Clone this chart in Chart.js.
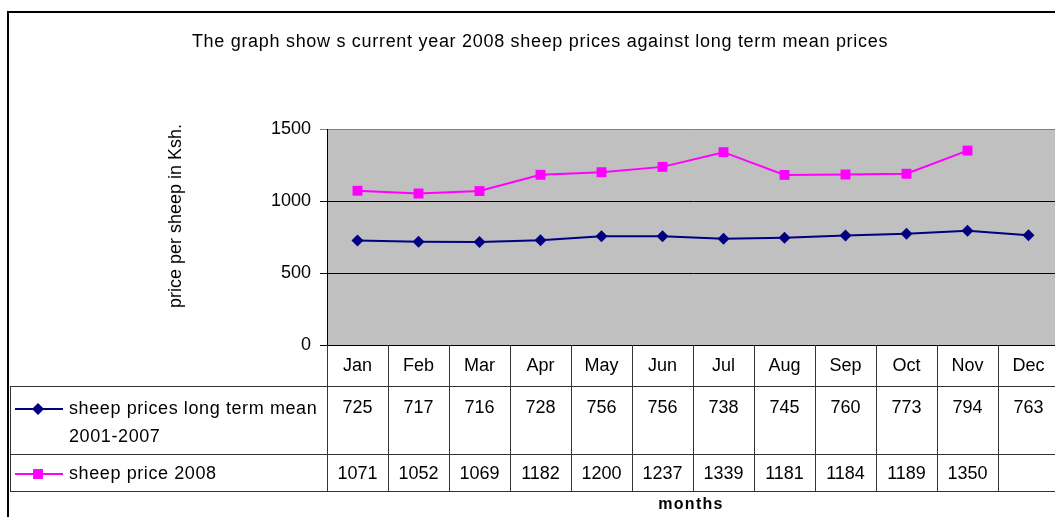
<!DOCTYPE html>
<html>
<head>
<meta charset="utf-8">
<script src="https://cdn.jsdelivr.net/npm/chart.js@4/dist/chart.umd.min.js"></script>
<style>
  html, body { margin: 0; padding: 0; overflow: hidden; background: #fff; }
  canvas { display: block; }
</style>
</head>
<body>
<canvas id="chart" width="1070" height="530"></canvas>
<script>
'use strict';

const months = ['Jan', 'Feb', 'Mar', 'Apr', 'May', 'Jun', 'Jul', 'Aug', 'Sep', 'Oct', 'Nov', 'Dec'];
const meanPrices = [725, 717, 716, 728, 756, 756, 738, 745, 760, 773, 794, 763];
const prices2008 = [1071, 1052, 1069, 1182, 1200, 1237, 1339, 1181, 1184, 1189, 1350, null];
const yTicks = [0, 500, 1000, 1500];
const meanLabel = ['sheep prices long term mean', '2001-2007'];
const label2008 = ['sheep price 2008'];
const titleText = 'The graph show s current year 2008 sheep prices against long term mean prices';
const yTitle = 'price per sheep in Ksh.';
const xTitle = 'months';

const FONT = '"Liberation Sans", Arial, sans-serif';
const PLOT_TOP = 129;
const PLOT_BOTTOM = 345;
const ROW1 = 386, ROW2 = 454, ROW3 = 491;
const TABLE_LEFT = 10;

const canvas = document.querySelector('#chart');
const ctx = canvas.getContext('2d');

// gray plot background, titles, data table under the axis
const sheetPlugin = {
  id: 'sheet',
  beforeDraw(chart) {
    const a = chart.chartArea;
    const c = chart.ctx;
    c.save();
    c.fillStyle = '#fff';
    c.fillRect(0, 0, chart.width, chart.height);
    c.fillStyle = '#c0c0c0';
    c.fillRect(a.left, a.top, a.right - a.left, a.bottom - a.top);
    c.restore();
  },
  afterDraw(chart) {
    const c = chart.ctx;
    const x = chart.scales.x;
    const step = x.getPixelForValue(1) - x.getPixelForValue(0);
    c.save();

    // outer frame
    c.strokeStyle = '#000';
    c.lineWidth = 2;
    c.strokeRect(8, 12, chart.width, chart.height);

    // title
    c.fillStyle = '#000';
    c.font = '18px ' + FONT;
    c.letterSpacing = '0.7px';
    c.textAlign = 'center';
    c.textBaseline = 'middle';
    c.fillText(titleText, 540, 42);

    // y title
    c.save();
    c.translate(176, 216);
    c.rotate(-Math.PI / 2);
    c.letterSpacing = '0px';
    c.fillText(yTitle, 0, 0);
    c.restore();

    // table grid
    c.strokeStyle = '#333';
    c.lineWidth = 1;
    c.beginPath();
    [ROW1, ROW2, ROW3].forEach(y => {
      c.moveTo(TABLE_LEFT, y + 0.5);
      c.lineTo(chart.width, y + 0.5);
    });
    c.moveTo(TABLE_LEFT + 0.5, ROW1);
    c.lineTo(TABLE_LEFT + 0.5, ROW3);
    for (let i = 0; i <= months.length; i++) {
      const px = Math.round(x.getPixelForValue(i) - step / 2) + 0.5;
      c.moveTo(px, PLOT_BOTTOM);
      c.lineTo(px, ROW3);
    }
    c.stroke();

    // values
    c.fillStyle = '#000';
    c.font = '18px ' + FONT;
    c.letterSpacing = '0px';
    c.textAlign = 'center';
    c.textBaseline = 'middle';
    months.forEach((m, i) => {
      const px = x.getPixelForValue(i);
      if (meanPrices[i] != null) c.fillText(String(meanPrices[i]), px, 408);
      if (prices2008[i] != null) c.fillText(String(prices2008[i]), px, 474);
    });

    // legend keys
    const keys = [
      {y: 409, color: '#000080', style: 'rectRot', r: 6, lines: meanLabel},
      {y: 474, color: '#ff00ff', style: 'rect', r: 7, lines: label2008}
    ];
    keys.forEach(k => {
      c.strokeStyle = k.color;
      c.lineWidth = 2;
      c.beginPath();
      c.moveTo(15, k.y);
      c.lineTo(63, k.y);
      c.stroke();
      c.fillStyle = k.color;
      Chart.helpers.drawPoint(c, {pointStyle: k.style, radius: k.r, borderWidth: 0}, 38, k.y);
      c.fillStyle = '#000';
      c.textAlign = 'left';
      c.letterSpacing = '0.6px';
      k.lines.forEach((t, j) => c.fillText(t, 69, k.y + j * 28));
    });

    // x title
    c.font = 'bold 16px ' + FONT;
    c.letterSpacing = '1.3px';
    c.textAlign = 'center';
    c.fillText(xTitle, 691, 505);

    c.restore();
  }
};

const config = {
  type: 'line',
  data: {
    labels: months,
    datasets: [{
      label: meanLabel.join(' '),
      data: meanPrices,
      borderColor: '#000080',
      backgroundColor: '#000080',
      borderWidth: 2,
      pointStyle: 'rectRot',
      pointRadius: 6,
      pointBorderWidth: 0,
      fill: false
    }, {
      label: label2008[0],
      data: prices2008,
      borderColor: '#ff00ff',
      backgroundColor: '#ff00ff',
      borderWidth: 2,
      pointStyle: 'rect',
      pointRadius: 7,
      pointBorderWidth: 0,
      fill: false
    }]
  },
  options: {
    responsive: false,
    animation: false,
    layout: {padding: {top: PLOT_TOP, right: 11, bottom: 0, left: 0}},
    plugins: {
      legend: {display: false},
      title: {display: false},
      tooltip: {enabled: false}
    },
    scales: {
      x: {
        offset: true,
        grid: {display: false, drawTicks: false},
        border: {display: true, color: '#000', width: 1},
        ticks: {
          color: '#000',
          font: {family: FONT, size: 18},
          padding: 10,
          autoSkip: false,
          maxRotation: 0
        },
        afterFit(scale) { scale.height = 530 - PLOT_BOTTOM; }
      },
      y: {
        min: 0,
        max: 1500,
        afterBuildTicks(scale) { scale.ticks = yTicks.map(v => ({value: v})); },
        grid: {
          color: c => c.tick && c.tick.value === 1500 ? '#808080' : '#000',
          tickLength: 7
        },
        border: {display: true, color: '#000', width: 1},
        ticks: {
          color: '#000',
          font: {family: FONT, size: 18},
          padding: 9,
          callback: v => String(v)
        },
        afterFit(scale) { scale.width = 327; }
      }
    }
  },
  plugins: [sheetPlugin]
};

const chart = new Chart(ctx, config);
</script>
</body>
</html>
